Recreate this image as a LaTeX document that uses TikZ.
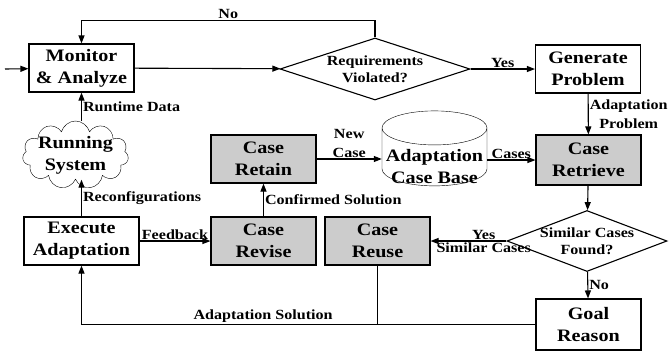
\documentclass[tikz,border=0pt]{standalone}
\usepackage{fontspec}
\setmainfont{Liberation Serif}[FakeStretch=1.15]
\usetikzlibrary{positioning,arrows.meta,shapes.geometric,shapes.symbols}

\begin{document}
\begin{tikzpicture}[
    x=1pt, y=-1pt,
    block/.style={
      draw,
      line width=1.1pt,
      align=center,
      minimum width=105pt,
      minimum height=48pt,
      inner sep=1pt,
      font=\fontsize{17.5}{22}\selectfont\bfseries
    },
    casebox/.style={block, fill=gray!40},
    decision/.style={
      draw,
      diamond,
      line width=1.1pt,
      align=center,
      inner sep=-8pt,
      font=\fontsize{14}{17}\selectfont\bfseries
    },
    lbl/.style={font=\fontsize{14}{19}\selectfont\bfseries, inner sep=1pt, align=center},
    arrow/.style={-{Triangle[length=8pt,width=6pt]}, line width=1.1pt}
  ]
    \useasboundingbox (0,0) rectangle (669,354);

    % monitoring loop
    \node[block] (mon) at (81.5,68) {Monitor\\\& Analyze};
    \node[decision, minimum width=190pt, minimum height=62pt, shape aspect=3] (req) at (375,69) {Requirements\\Violated?};
    \node[block] (gen) at (588,69) {Generate\\Problem};
    \node[cloud, draw, cloud puffs=11, aspect=1.7, minimum width=106pt, minimum height=68pt, inner sep=-10pt,
          align=center, font=\fontsize{17.5}{22}\selectfont\bfseries] (sys) at (75.5,155) {Running\\System};
    \node[block, minimum width=115pt] (exec) at (81.5,241) {Execute\\Adaptation};

    % case-based reasoning cycle; the base text sits low in the drum
    \node[casebox, minimum height=50pt] (retr) at (588.5,160) {Case\\Retrieve};
    \node[draw, cylinder, shape border rotate=90, aspect=0.35, minimum width=105pt, minimum height=75pt,
          inner sep=0pt, font=\fontsize{17.5}{22}\selectfont\bfseries] (cbase) at (434.5,157)
          {\raisebox{-15pt}[0pt][0pt]{\begin{tabular}{@{}c@{}}Adaptation\\Case Base\end{tabular}}};
    \node[casebox] (retain) at (263.5,159) {Case\\Retain};
    \node[casebox] (revise) at (263.5,241) {Case\\Revise};
    \node[casebox] (reuse) at (377.5,241) {Case\\Reuse};
    \node[decision, minimum width=160pt, minimum height=61pt, shape aspect=2.6] (similar) at (587,241) {Similar Cases\\Found?};
    \node[block, minimum height=51pt] (goal) at (588.5,324.5) {Goal\\Reason};

    \coordinate (start) at (5,69);

    \draw[arrow] (start) -- (mon);
    \draw[arrow] (mon) -- (req);
    \draw[arrow] (req.north) -- ++(0,-17) -| node[pos=0.25, above, lbl] {No} (mon.north);
    \draw[arrow] (req) -- node[above, lbl] {Yes} (gen);
    \draw[arrow] (gen) -- node[right, lbl] {Adaptation\\Problem} (retr);
    \draw[arrow] (retr.west -| cbase.east) -- node[above, lbl] {Cases} (retr.west);
    \draw[arrow] (retain) -- node[above, lbl] {New\\Case} (retain -| cbase.west);
    \draw[arrow] (retr) -- (similar);
    \draw[arrow] (similar) -- node[pos=0.3, above, lbl] {Yes} node[pos=0.3, below, lbl] {Similar Cases} (reuse);
    \draw[arrow] (similar) -- node[right, lbl] {No} (goal);
    \draw[arrow] (goal.west) -| node[pos=0.3, above, lbl] {Adaptation Solution} (exec.south);
    \draw[line width=1.1pt] (reuse.south) -- (reuse.south |- goal.west);
    \draw[arrow] (exec) -- node[above, lbl] {Feedback} (revise);
    \draw[arrow] (exec.north) -- node[right, lbl] {Reconfigurations} (exec.north |- sys.south);
    \draw[arrow] (sys.north -| mon.south) -- node[right, lbl] {Runtime Data} (mon.south);
    \draw[arrow] (revise) -- node[right, lbl] {Confirmed Solution} (retain);
\end{tikzpicture}
\end{document}
